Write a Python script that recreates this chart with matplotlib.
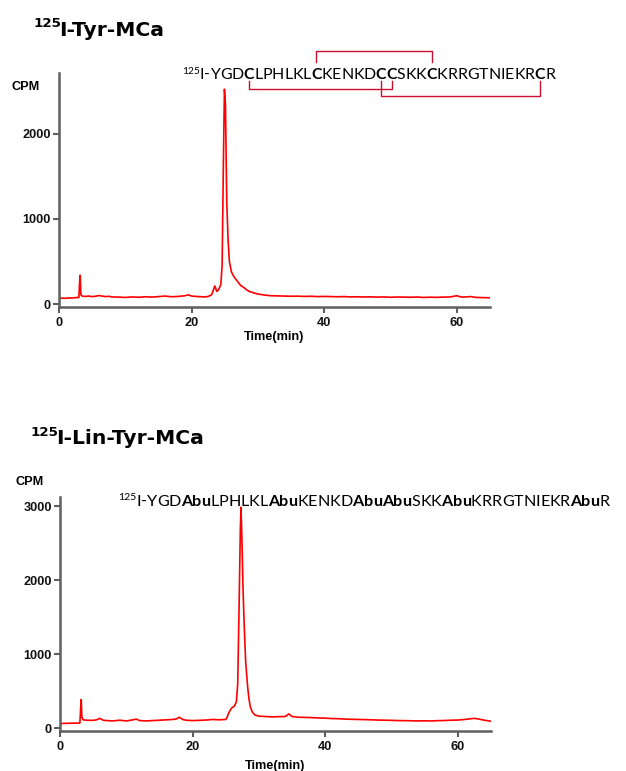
import matplotlib
matplotlib.use("Agg")
import matplotlib.pyplot as plt
from matplotlib.lines import Line2D
from matplotlib.transforms import IdentityTransform
from matplotlib.font_manager import findfont, FontProperties
from matplotlib.ft2font import FT2Font

plt.rcParams['font.family'] = ['Liberation Sans', 'DejaVu Sans']
plt.rcParams['font.weight'] = 'bold'

time_tyr = [0, 0.5, 1, 1.5, 2, 2.5, 3.0, 3.1, 3.2, 3.3,
            3.5, 4, 4.5, 5, 5.5, 6, 6.5, 7, 7.5, 8,
            9, 10, 11, 12, 13, 14, 15, 16, 17, 18,
            19, 19.5, 20, 21, 22, 22.5, 23, 23.3, 23.5, 23.8,
            24.1, 24.4, 24.6, 24.8, 24.95, 25.1, 25.3, 25.5, 25.7, 26.0,
            26.3, 26.6, 27.0, 27.4, 27.8, 28.2, 28.7, 29.3, 30, 31,
            32, 33, 34, 35, 36, 37, 38, 39, 40, 41,
            42, 43, 44, 45, 46, 47, 48, 49, 50, 51,
            52, 53, 54, 55, 56, 57, 58, 59, 60, 60.5,
            61, 62, 63, 64, 65]
cpm_tyr = [68, 72, 70, 75, 73, 78, 80, 250, 340, 110,
           95, 92, 96, 90, 94, 102, 96, 90, 93, 86,
           84, 80, 86, 82, 88, 84, 90, 96, 88, 92,
           100, 110, 96, 90, 86, 92, 110, 170, 215, 150,
           175, 230, 450, 1700, 2520, 2350, 1200, 750, 500, 380,
           335, 300, 260, 220, 200, 175, 150, 135, 120, 108,
           100, 98, 96, 94, 95, 92, 94, 90, 92, 90,
           88, 90, 86, 88, 85, 87, 84, 86, 82, 85,
           84, 82, 85, 80, 83, 81, 84, 86, 100, 88,
           84, 90, 80, 78, 76]

time_lin = [0, 1, 2, 3.0, 3.1, 3.2, 3.3, 3.5, 4, 5,
            5.5, 6, 6.5, 7, 8, 9, 10, 11, 11.5, 12,
            13, 14, 15, 16, 17, 17.5, 18, 18.5, 19, 20,
            21, 22, 23, 24, 24.5, 25.0, 25.2, 25.4, 25.7, 26.0,
            26.3, 26.6, 26.8, 27.0, 27.2, 27.3, 27.45, 27.6, 27.77, 28.0,
            28.3, 28.5, 28.7, 29.0, 29.4, 30, 31, 32, 33, 34,
            34.5, 35, 36, 37, 38, 39, 40, 41, 42, 43,
            44, 45, 46, 47, 48, 49, 50, 51, 52, 53,
            54, 55, 56, 57, 58, 59, 60, 61, 62, 62.5,
            63, 64, 65]
cpm_lin = [65, 68, 70, 72, 250, 390, 150, 115, 110, 108,
           115, 135, 110, 105, 100, 110, 100, 115, 125, 105,
           100, 105, 110, 115, 120, 125, 150, 120, 110, 105,
           108, 112, 120, 115, 118, 120, 150, 200, 250, 285,
           300, 360, 600, 1600, 2700, 2990, 2500, 1900, 1420, 900,
           560, 400, 290, 220, 180, 165, 160, 155, 158, 160,
           195, 160, 150, 148, 145, 140, 138, 132, 130, 125,
           122, 120, 118, 115, 112, 110, 108, 105, 104, 102,
           100, 102, 100, 104, 106, 110, 112, 120, 130, 135,
           128, 110, 95]

x_ticks = [0, 20, 40, 60]
y_ticks_tyr = [0, 1000, 2000]
y_ticks_lin = [0, 1000, 2000, 3000]

seq_tyr = [("I-YGD", 0), ("C", 1), ("LPHLKL", 0), ("C", 1), ("KENKD", 0),
           ("C", 1), ("C", 1), ("SKK", 0), ("C", 1), ("KRRGTNIEKR", 0),
           ("C", 1), ("R", 0)]
seq_lin = [("I-YGD", 0), ("Abu", 1), ("LPHLKL", 0), ("Abu", 1), ("KENKD", 0),
           ("Abu", 1), ("Abu", 1), ("SKK", 0), ("Abu", 1), ("KRRGTNIEKR", 0),
           ("Abu", 1), ("R", 0)]
# disulfide bridges, numbered by cysteine
bridges = [(1, 4), (2, 5), (3, 6)]

W, H = 626, 771
fig = plt.figure(figsize=(W / 100, H / 100), dpi=100)
fig.patch.set_facecolor('white')
PX = IdentityTransform()
GRAY = '#5f5f5f'
RED = '#ff0000'
SEQ_FONT = 'Lato'


def put(x, y, s, **kw):
    # x, y in picture pixels, y measured from the top
    return fig.text(x, H - y, s, transform=PX, **kw)


def make_axes(left, right, top, bottom):
    ax = fig.add_axes([left / W, 1 - bottom / H, (right - left) / W, (bottom - top) / H])
    for s in ['top', 'right']:
        ax.spines[s].set_visible(False)
    for s in ['left', 'bottom']:
        ax.spines[s].set_color(GRAY)
        ax.spines[s].set_linewidth(1.8)
    ax.tick_params(direction='out', length=4.3, width=1.5, color=GRAY,
                   labelsize=9.2, labelcolor='#111111')
    ax.tick_params(axis='x', pad=3)
    ax.tick_params(axis='y', pad=1.5)
    ax.set_xlim(0, 65)
    ax.set_xticks(x_ticks)
    ax.patch.set_alpha(0)
    return ax


ax1 = make_axes(59, 490, 73, 307)
ax1.plot(time_tyr, cpm_tyr, color=RED, lw=1.2)
ax1.set_ylim(-32, 2710)
ax1.set_yticks(y_ticks_tyr)

ax2 = make_axes(60, 491, 497, 731)
ax2.plot(time_lin, cpm_lin, color=RED, lw=1.2)
ax2.set_ylim(-36, 3128)
ax2.set_yticks(y_ticks_lin)

# axis labels
put(12, 87, 'CPM', fontsize=9.2, va='center', ha='left')
put(16, 482, 'CPM', fontsize=9.2, va='center', ha='left')
put(274, 337, 'Time(min)', fontsize=9.2, va='center', ha='center')
put(275, 766, 'Time(min)', fontsize=9.2, va='center', ha='center')

# titles
put(33, 26.7, '125', fontsize=9.6, family='DejaVu Sans', va='baseline')
put(59, 35.5, 'I-Tyr-MCa', fontsize=14.6, family='DejaVu Sans', va='baseline')
put(30, 435.5, '125', fontsize=9.6, family='DejaVu Sans', va='baseline')
put(56, 444.5, 'I-Lin-Tyr-MCa', fontsize=14.6, family='DejaVu Sans', va='baseline')

_fonts = {}


def advance(s, size, bold):
    # pen advance in pixels (100 dpi) of a string in the sequence font, no kerning
    if bold not in _fonts:
        path = findfont(FontProperties(family=SEQ_FONT, weight='bold' if bold else 'normal'))
        _fonts[bold] = FT2Font(path)
    f = _fonts[bold]
    f.set_size(size, 100)
    return sum(f.load_char(ord(ch)).linearHoriAdvance / 65536 for ch in s)


def seq_width(parts, size):
    return advance('125', size * 0.65, False) + sum(advance(s, size, b) for s, b in parts)


def draw_sequence(parts, x_left, base, width):
    size = 12 * width / seq_width(parts, 12)
    spx = size * 100 / 72
    x = x_left
    put(x, base - 0.36 * spx, '125', fontsize=size * 0.65, family=SEQ_FONT,
        weight='normal', va='baseline')
    x += advance('125', size * 0.65, False)
    centers = []
    for s, b in parts:
        x_start = x
        # one glyph at a time so the spacing does not depend on kerning
        for ch in s:
            put(x, base, ch, fontsize=size, family=SEQ_FONT,
                weight='bold' if b else 'normal', va='baseline')
            x += advance(ch, size, b)
        if b:
            centers.append((x_start + x) / 2)
    return centers


def seg(xs, ys, color='#c8102e'):
    fig.add_artist(Line2D(xs, [H - y for y in ys], transform=PX, color=color, lw=1.0))


cys_x = draw_sequence(seq_tyr, 182, 79.3, 371)
draw_sequence(seq_lin, 118, 506, 491)

# bridges: middle one drawn above, the others below at two depths
above = [bridges[1]]
below = [bridges[0], bridges[2]]
for a, b in above:
    xa, xb = cys_x[a - 1], cys_x[b - 1]
    seg([xa, xa, xb, xb], [62, 50.7, 50.7, 62])
for k, (a, b) in enumerate(below):
    xa, xb = cys_x[a - 1], cys_x[b - 1]
    yb = 89.3 + 6.4 * k
    seg([xa, xa, xb, xb], [80.5, yb, yb, 80.5])

fig.savefig('out.png', dpi=100)
